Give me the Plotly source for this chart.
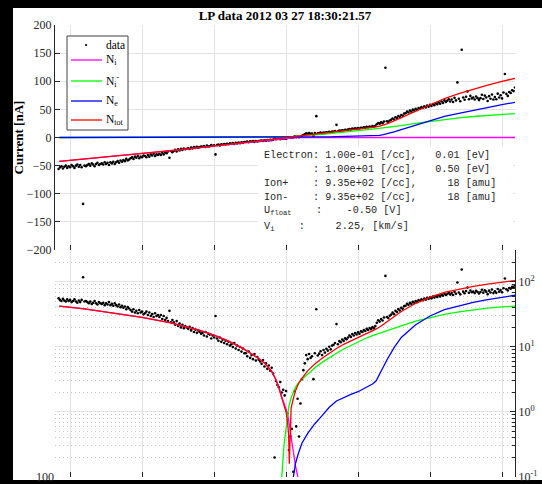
import numpy as np
import plotly.graph_objects as go

title_text = "LP data 2012 03 27 18:30:21.57"
y_title = "Current [nA]"

# Langmuir probe sweep: bias voltage grid and measured current [nA]
sweep_start = -3.16
sweep_step = 0.02
current_rows = [
    [-56, -53, -51, -55, -52, -50, -54, -51, -53, -49],
    [-51, -54, -50, -48, -52, -49, -53, -118, -50, -51],
    [-49, -47, -50, -46, -48, -51, -47, -45, -49, -47],
    [-46, -48, -44, -47, -45, -49, -44, -46, -43, -47],
    [-44, -42, -45, -41, -43, -40, -42, -38, -41, -39],
    [-37, -35, -38, -34, -36, -33, -37, -34, -35, -32],
    [-33, -35, -31, -34, -30, -32, -29, -33, -30, -31],
    [-29, -31, -27, -30, -26, -28, -25, -36, -24, -26],
    [-24, -22, -25, -21, -23, -20, -22, -19.5, -21, -20],
    [-19, -20.5, -18, -19.5, -17, -18.5, -16.5, -18, -17, -16],
    [-16.5, -15, -17, -14.5, -16, -15.5, -13.5, -15, -14, -30],
    [-13.5, -12.5, -14, -12, -13, -11.5, -12.5, -11, -12, -10.5],
    [-11, -10, -11.5, -9.5, -10.5, -9, -10, -8.5, -9.5, -8],
    [-8, -7.2, -8.5, -6.8, -7.5, -6.5, -7.8, -6.2, -7, -6.4],
    [-6.0, -5.5, -6.3, -5.0, -5.6, -4.6, -5.2, -4.3, -4.8, -3.9],
    [0.2, -3.0, -2.6, -2.4, -2.9, -2.0, -2.2, -1.8, -2.1, -0.95],
    [-0.26, -0.42, 0.55, 0.12, 2.1, 0.6, 1.6, 0.42, 1.35, 3.2],
    [4.4, 5.6, 7.5, 6.5, 7.8, 6.8, 7.2, 3.2, 8.0, 38],
    [7.4, 7.9, 8.6, 7.5, 9.0, 8.2, 9.4, 8.8, 10.1, 9.2],
    [10.5, 10.8, 11.5, 22.5, 11.0, 12.3, 11.8, 13.0, 12.4, 13.6],
    [13.1, 14.0, 15.0, 14.3, 15.8, 15.0, 16.4, 15.6, 16.8, 16.0],
    [17.4, 17.0, 18.2, 17.6, 19.0, 18.3, 19.6, 18.8, 20.2, 19.5],
    [21.0, 23.5, 25.8, 24.6, 27.0, 25.5, 28.4, 124, 29.0, 27.8],
    [30.2, 31.5, 33.8, 32.0, 36.0, 34.5, 38.2, 36.5, 40.0, 38.8],
    [42.5, 43.0, 46.2, 44.5, 48.0, 46.0, 49.5, 47.8, 51.0, 49.0],
    [52.5, 51.0, 54.0, 52.5, 55.5, 53.5, 57.0, 54.8, 58.2, 56.0],
    [59.5, 57.5, 61.0, 59.0, 62.5, 60.0, 64.0, 61.5, 66.0, 63.0],
    [65.5, 68.0, 64.0, 67.5, 63.0, 70.5, 66.0, 98, 69.0, 64.5],
    [156, 71.0, 67.0, 72.5, 82, 68.0, 74.0, 69.5, 71.0, 67.5],
    [73.0, 70.0, 66.5, 70.0, 76.0, 68.5, 74.5, 71.0, 65.0, 73.5],
    [69.0, 76.5, 67.5, 72.0, 68.0, 78.0, 71.0, 75.0, 69.5, 80.0],
    [113, 77.5, 74.0, 81.0, 79.0, 84.0, 82.5, 89.0],
]
current = np.array([v for row in current_rows for v in row], dtype=float)
bias = sweep_start + sweep_step * np.arange(len(current))

# fitted current components [nA]
fit_bias = [-3.15, -2.8, -2.4, -2.0, -1.6, -1.2, -1.0, -0.8, -0.6, -0.5,
            -0.4, -0.3, -0.2, -0.15, -0.1, -0.06, -0.03, 0.0, 0.02, 0.035,
            0.045, 0.055, 0.07, 0.1, 0.13, 0.17, 0.22, 0.3, 0.4, 0.5,
            0.6, 0.7, 0.8, 0.9, 1.0, 1.1, 1.2, 1.25, 1.3, 1.35,
            1.4, 1.5, 1.6, 1.8, 2.0, 2.2, 2.4, 2.6, 2.8, 3.0,
            3.18]
ion_pos = [-42.5, -38.5, -33.3, -28.5, -23.5, -18.0, -15.2, -12.3, -9.5, -8.1,
           -6.9, -5.7, -4.2, -3.3, -2.4, -1.7, -1.35, -1.1, -0.95, -0.75,
           -0.62, -0.5, -0.4, -0.25, -0.15, -0.09, -0.05, 0, 0, 0,
           0, 0, 0, 0, 0, 0, 0, 0, 0, 0,
           0, 0, 0, 0, 0, 0, 0, 0, 0, 0,
           0]
ion_neg = [0, 0, 0, 0, 0, 0, 0, 0, 0, 0,
           0, 0, 0, 0.02, 0.05, 0.1, 0.3, 0.6, 0.9, 1.15,
           1.3, 1.45, 1.65, 2.0, 2.4, 2.8, 3.2, 3.8, 4.8, 5.8,
           6.9, 8.0, 9.3, 10.6, 12.0, 13.5, 15.0, 15.7, 16.4, 17.2,
           18.0, 19.6, 21.2, 25.0, 28.5, 31.8, 34.8, 37.3, 39.5, 41.3,
           42.6]
electron = [0, 0, 0, 0, 0, 0, 0, 0, 0, 0,
            0, 0, 0, 0, 0, 0, 0, 0, 0, 0,
            0, 0, 0.06, 0.1, 0.16, 0.23, 0.33, 0.47, 0.66, 0.88,
            1.18, 1.48, 1.68, 1.87, 2.05, 2.35, 2.7, 3.0, 3.9, 5.0,
            6.3, 9.8, 14.0, 22.0, 30.0, 37.5, 43.0, 48.5, 53.5, 58.5,
            62.5]
total = [-42.5, -38.5, -33.3, -28.5, -23.5, -18.0, -15.2, -12.3, -9.5, -8.1,
         -6.9, -5.7, -4.2, -3.3, -2.35, -1.65, -1.3, -1.0, -0.7, -0.45,
         -0.16, 0.55, 1.15, 1.6, 2.1, 2.7, 3.3, 4.3, 5.5, 6.7,
         8.1, 9.5, 11.0, 12.5, 14.1, 15.8, 17.7, 18.7, 20.3, 22.2,
         24.3, 29.4, 35.2, 47.0, 58.5, 69.3, 77.8, 85.8, 93.0, 99.8,
         105.1]

series_names = ["N<sub>i</sub>", "N<sub>i</sub><sup>-</sup>", "N<sub>e</sub>", "N<sub>tot</sub>"]
series_values = [ion_pos, ion_neg, electron, total]
series_colors = ["#ff00ff", "#00ff00", "#0000ff", "#ff0000"]

sweep_ticks = [-3, -2, -1, 0, 1, 2, 3]
lin_ticks = [-200, -150, -100, -50, 0, 50, 100, 150, 200]
log_ticks = [0.1, 1, 10, 100]
log_tick_text = ["10<sup>-1</sup>", "10<sup>0</sup>", "10<sup>1</sup>", "10<sup>2</sup>"]
log_minor = [m * 10.0 ** e for e in (-1, 0, 1, 2) for m in range(2, 10) if m * 10.0 ** e < 310]
left_low_tick = [100]

info_lines = [
    "Electron: 1.00e-01 [/cc],   0.01 [eV]",
    "        : 1.00e+01 [/cc],   0.50 [eV]",
    "Ion+    : 9.35e+02 [/cc],     18 [amu]",
    "Ion-    : 9.35e+02 [/cc],     18 [amu]",
    "U<sub>float</sub>    :    -0.50 [V]",
    "V<sub>i</sub>    :     2.25, [km/s]",
]


def magnitude(vals):
    return [abs(v) if v != 0 else None for v in vals]


# page geometry (px)
W, H = 542, 484
ML, MR, MT, MB = 55, 27, 25, 7
PW, PH = W - ML - MR, H - MT - MB
split = (H - MB - 250) / PH


def px(xp):
    return (xp - ML) / PW


def py(yp):
    return (H - MB - yp) / PH


serif = "Liberation Serif"
mono = "Liberation Mono"
axis_col = "#262626"
grid_col = "#e3e3e3"

fig = go.Figure()

# linear panel
fig.add_trace(go.Scatter(x=bias, y=current, mode="markers", name="data", showlegend=False,
                         marker=dict(color="black", size=2.6, line=dict(width=0)),
                         xaxis="x", yaxis="y"))
for nm, vals, col in zip(series_names, series_values, series_colors):
    fig.add_trace(go.Scatter(x=fit_bias, y=vals, mode="lines", name=nm, showlegend=False,
                             line=dict(color=col, width=1.3), xaxis="x", yaxis="y"))

# logarithmic panel (magnitudes)
fig.add_trace(go.Scatter(x=bias, y=np.abs(current), mode="markers", showlegend=False,
                         marker=dict(color="black", size=2.6, line=dict(width=0)),
                         xaxis="x2", yaxis="y2"))
for nm, vals, col in zip(series_names, series_values, series_colors):
    fig.add_trace(go.Scatter(x=fit_bias, y=magnitude(vals), mode="lines", showlegend=False,
                             line=dict(color=col, width=1.3), connectgaps=False,
                             xaxis="x2", yaxis="y2"))
# empty trace so the secondary left axis of the lower panel is drawn
fig.add_trace(go.Scatter(x=[], y=[], xaxis="x2", yaxis="y3", showlegend=False, hoverinfo="skip"))

common_x = dict(range=[-3.21, 3.18], tickmode="array", tickvals=sweep_ticks,
                ticks="inside", ticklen=5, tickcolor=axis_col, showticklabels=False,
                showgrid=True, gridcolor=grid_col, gridwidth=1, zeroline=False, showline=False,
                automargin=False)

fig.update_layout(
    width=W, height=H, autosize=False,
    margin=dict(l=ML, r=MR, t=MT, b=MB, pad=0, autoexpand=False),
    paper_bgcolor="black", plot_bgcolor="white",
    showlegend=False,
    title=dict(text=title_text, x=0.5, xref="paper", xanchor="center",
               y=1 - 15 / H, yref="container", yanchor="middle", automargin=False,
               font=dict(family=serif, size=13, color="black", weight="bold")),
    xaxis=dict(domain=[0, 1], anchor="y", **common_x),
    xaxis2=dict(domain=[0, 1], anchor="y2", matches="x", **common_x),
    yaxis=dict(domain=[split, 1], anchor="x", range=[-200, 200], tickmode="array",
               tickvals=lin_ticks, ticks="inside", ticklen=5, tickcolor=axis_col,
               showline=True, linecolor=axis_col, linewidth=1, automargin=False,
               showgrid=True, gridcolor=grid_col, zeroline=False,
               ticklabeloverflow="allow",
               tickfont=dict(family=serif, size=12, color=axis_col),
               title=dict(text=y_title, standoff=0,
                          font=dict(family=serif, size=13, color="black", weight="bold"))),
    yaxis2=dict(domain=[0, split], anchor="x2", type="log", range=[-1, 2.492], side="right",
                tickmode="array", tickvals=log_ticks, ticktext=log_tick_text,
                ticks="inside", ticklen=5, tickcolor=axis_col, automargin=False,
                showline=True, linecolor=axis_col, linewidth=1,
                showgrid=True, gridcolor=grid_col, zeroline=False,
                ticklabeloverflow="allow",
                tickfont=dict(family=serif, size=12, color=axis_col),
                minor=dict(tickmode="array", tickvals=log_minor, ticks="inside", ticklen=3,
                           tickcolor=axis_col, showgrid=True, gridcolor="#c8c8c8",
                           griddash="1px,3px", gridwidth=1)),
    yaxis3=dict(overlaying="y2", anchor="x2", side="left", range=[100, 200],
                tickmode="array", tickvals=left_low_tick, ticks="inside", ticklen=5,
                tickcolor=axis_col, showgrid=False, zeroline=False, showline=False,
                automargin=False, ticklabeloverflow="allow",
                tickfont=dict(family=serif, size=12, color=axis_col)),
)

# white figure canvas inside the dark frame
fig.add_shape(type="rect", xref="paper", yref="paper", layer="below",
              x0=px(13), x1=px(W + 30), y0=py(480), y1=py(8),
              fillcolor="white", line=dict(width=0))

# legend box: sample glyphs and labels
leg_left, leg_top, leg_right, leg_bottom = 67, 36, 128, 130
leg_rows = [45, 60, 81, 101, 120]
fig.add_shape(type="rect", xref="paper", yref="paper", layer="above",
              x0=px(leg_left), x1=px(leg_right), y0=py(leg_bottom), y1=py(leg_top),
              fillcolor="white", line=dict(color="#404040", width=1))
fig.add_shape(type="circle", xref="paper", yref="paper", layer="above",
              x0=px(85), x1=px(87.2), y0=py(46.1), y1=py(43.9),
              fillcolor="black", line=dict(width=0))
for yrow, col in zip(leg_rows[1:], series_colors):
    fig.add_shape(type="line", xref="paper", yref="paper", layer="above",
                  x0=px(71), x1=px(102), y0=py(yrow), y1=py(yrow),
                  line=dict(color=col, width=1.3))
for yrow, label in zip(leg_rows, ["data"] + series_names):
    fig.add_annotation(xref="paper", yref="paper", x=px(104), y=py(yrow),
                       xanchor="left", yanchor="middle", text=label, showarrow=False,
                       font=dict(family=serif, size=11.5, color="black"))

# fit parameter box
fig.add_shape(type="rect", xref="paper", yref="paper", layer="above",
              x0=px(258), x1=px(513), y0=py(243), y1=py(146),
              fillcolor="white", line=dict(width=0))
info_rows = [155, 169, 183, 197, 211, 227]
for yrow, line in zip(info_rows, info_lines):
    fig.add_annotation(xref="paper", yref="paper", x=px(262), y=py(yrow),
                       xanchor="left", yanchor="middle", showarrow=False,
                       text=line.replace(" ", "\u00a0"), align="left",
                       font=dict(family=mono, size=10.2, color=axis_col))

fig.write_html("out.html")
